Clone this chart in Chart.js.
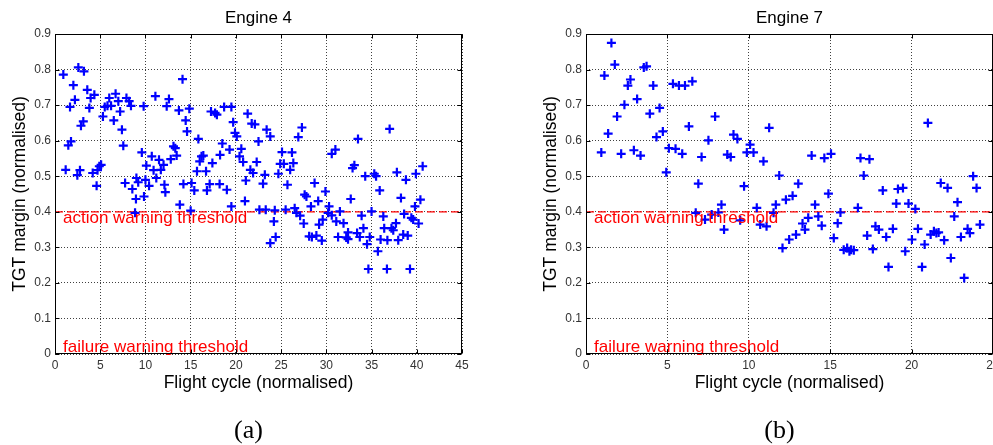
<!DOCTYPE html>
<html>
<head>
<meta charset="utf-8">
<title>TGT margin - Engine 4 / Engine 7</title>
<script src="https://cdn.jsdelivr.net/npm/chart.js@4.4.1/dist/chart.umd.min.js"></script>
<style>
    html, body { margin: 0; padding: 0; background: #fff; overflow: hidden; }
    body { position: relative; width: 993px; height: 445px; }
    canvas { position: absolute; top: 0; }
    #engine4Chart { left: 0; }
    #engine7Chart { left: 531px; }
</style>
</head>
<body>
<canvas id="engine4Chart" width="497" height="445"></canvas>
<canvas id="engine7Chart" width="497" height="445"></canvas>
<script>
const engine4Cycle = [
    0.92, 1.18, 1.47, 1.66, 1.77, 2.03, 2.2, 2.47, 2.58, 2.76, 2.87, 3.13, 3.2, 3.57, 3.8, 3.94, 4.17, 4.35, 4.6, 4.7,
    4.9, 5.1, 5.3, 5.5, 5.8, 6.0, 6.2, 6.5, 6.7, 7.0, 7.2, 7.4, 7.55, 7.75, 7.9, 8.2, 8.4, 8.55, 8.85, 8.95,
    9.0, 9.2, 9.6, 9.8, 9.84,
    10.0, 10.1, 10.4, 10.7, 10.9, 11.1, 11.2, 11.5, 11.7, 12.0, 12.1, 12.2, 12.35, 12.6, 12.8, 13.1, 13.3, 13.45, 13.7, 13.8,
    14.1, 14.2, 14.45, 14.6, 14.85, 15.1, 15.0, 15.4, 15.7, 15.85, 16.0, 16.2, 16.4, 16.7, 16.8, 17.1, 17.25, 17.4, 17.7, 17.9,
    18.2, 18.25, 18.5, 18.7, 19.0, 19.3, 19.5, 19.5, 19.7, 19.9, 20.1, 20.4, 20.6, 20.8, 21.1, 21.0, 21.3, 21.6, 21.9, 21.75,
    22.1, 22.3, 22.5, 22.6, 23.0, 23.2, 23.3, 23.4, 23.8, 23.8, 24.2, 24.3, 24.4, 24.7, 24.9, 25.1, 25.3, 25.5, 25.7, 26.0,
    26.2, 26.35, 26.5, 26.7, 26.9, 27.1, 27.3, 27.5, 27.6, 27.8, 28.1, 28.4, 28.3, 28.7, 28.9, 29.1, 29.2, 29.5, 29.6, 29.9,
    30.2, 30.3, 30.6, 30.6, 31.0, 31.1, 31.3, 31.5, 31.9, 32.2, 32.4, 32.4, 32.7, 32.9, 33.1, 33.4, 33.5, 33.7, 33.9, 34.1,
    34.3, 34.5, 34.65, 34.8, 35.0, 35.3, 35.5, 35.7, 35.9, 36.0, 36.3, 36.4, 36.7, 36.75, 37.0, 37.2, 37.4, 37.7, 37.8, 37.95,
    38.25, 38.5, 38.6, 38.8, 39.0, 39.25, 39.4, 39.6, 39.8, 39.9, 40.2, 40.4, 40.65
];
const engine4Margin = [
    0.786, 0.518, 0.587, 0.695, 0.598, 0.756, 0.715, 0.503, 0.806, 0.517, 0.642, 0.654, 0.795, 0.743, 0.692, 0.72, 0.509, 0.729, 0.473, 0.517,
    0.528, 0.532, 0.668, 0.695, 0.698, 0.72, 0.698, 0.657, 0.732, 0.711, 0.682, 0.631, 0.586, 0.481, 0.72, 0.711, 0.698, 0.464, 0.397, 0.436,
    0.495, 0.483, 0.567, 0.697, 0.443,
    0.49, 0.53, 0.473, 0.556, 0.517, 0.725, 0.495, 0.546, 0.518, 0.532, 0.476, 0.455, 0.697, 0.717, 0.548, 0.584, 0.579, 0.558, 0.685, 0.42,
    0.773, 0.478, 0.657, 0.626, 0.69, 0.481, 0.403, 0.46, 0.514, 0.605, 0.542, 0.556, 0.558, 0.514, 0.46, 0.478, 0.682, 0.537, 0.678, 0.673,
    0.478, 0.56, 0.592, 0.695, 0.462, 0.575, 0.695, 0.415, 0.652, 0.622, 0.612, 0.556, 0.577, 0.54, 0.488, 0.43, 0.676, 0.518, 0.509, 0.648,
    0.646, 0.54, 0.598, 0.406, 0.479, 0.504, 0.406, 0.631, 0.612, 0.312, 0.373, 0.404, 0.329, 0.507, 0.535, 0.568, 0.535, 0.406, 0.476, 0.518,
    0.567, 0.537, 0.41, 0.397, 0.61, 0.389, 0.637, 0.367, 0.448, 0.443, 0.331, 0.329, 0.415, 0.481, 0.333, 0.43, 0.364, 0.319, 0.378, 0.457,
    0.397, 0.415, 0.563, 0.39, 0.575, 0.373, 0.329, 0.401, 0.368, 0.328, 0.342, 0.323, 0.436, 0.523, 0.531, 0.34, 0.605, 0.329, 0.389, 0.354,
    0.5, 0.309, 0.239, 0.329, 0.401, 0.507, 0.5, 0.289, 0.46, 0.322, 0.387, 0.354, 0.239, 0.32, 0.633, 0.354, 0.348, 0.368, 0.511, 0.32,
    0.439, 0.336, 0.394, 0.49, 0.333, 0.239, 0.383, 0.378, 0.415, 0.507, 0.367, 0.434, 0.528
];

const engine7Cycle = [
    0.94, 1.13, 1.36, 1.56, 1.77, 1.91, 2.16, 2.36, 2.57, 2.73, 2.94, 3.14, 3.35, 3.55, 3.72, 3.92, 4.13, 4.33, 4.52, 4.72,
    4.93, 5.09, 5.34, 5.5, 5.71, 5.91, 6.08, 6.32, 6.53, 6.74, 6.9, 7.1, 7.31, 7.52, 7.72, 7.93, 8.13, 8.32, 8.48, 8.68,
    8.89, 9.06, 9.3, 9.47, 9.71, 9.88, 10.08, 10.29, 10.49, 10.7, 10.9, 11.09, 11.25, 11.52, 11.66, 11.87, 12.07, 12.28, 12.48, 12.69,
    12.9, 13.04, 13.3, 13.45, 13.65, 13.86, 14.07, 14.27, 14.48, 14.64, 14.89, 15.05, 15.22, 15.46, 15.63, 15.83, 16.04, 16.18, 16.28, 16.45,
    16.7, 16.86, 17.06, 17.27, 17.41, 17.62, 17.78, 17.99, 18.23, 18.44, 18.58, 18.85, 19.06, 19.16, 19.47, 19.61, 19.81, 20.02, 20.23, 20.39,
    20.64, 20.8, 21.0, 21.17, 21.37, 21.52, 21.66, 21.79, 22.0, 22.21, 22.41, 22.62, 22.82, 23.03, 23.23, 23.44, 23.58, 23.78, 23.99, 24.2
];
const engine7Margin = [
    0.567, 0.783, 0.62, 0.875, 0.814, 0.668, 0.563, 0.701, 0.755, 0.772, 0.573, 0.717, 0.558, 0.806, 0.809, 0.676, 0.755, 0.61, 0.692, 0.626,
    0.511, 0.579, 0.76, 0.577, 0.755, 0.563, 0.755, 0.64, 0.767, 0.397, 0.479, 0.554, 0.378, 0.601, 0.392, 0.668, 0.398, 0.42, 0.35, 0.561,
    0.554, 0.617, 0.605, 0.376, 0.472, 0.567, 0.589, 0.567, 0.411, 0.364, 0.542, 0.359, 0.636, 0.397, 0.42, 0.502, 0.298, 0.434, 0.322, 0.445,
    0.336, 0.479, 0.367, 0.35, 0.383, 0.558, 0.42, 0.387, 0.361, 0.551, 0.451, 0.563, 0.326, 0.368, 0.398, 0.293, 0.298, 0.289, 0.293, 0.292,
    0.411, 0.551, 0.502, 0.333, 0.548, 0.295, 0.359, 0.35, 0.46, 0.329, 0.245, 0.352, 0.423, 0.464, 0.467, 0.289, 0.423, 0.322, 0.408, 0.352,
    0.245, 0.308, 0.65, 0.336, 0.345, 0.34, 0.342, 0.481, 0.32, 0.467, 0.27, 0.387, 0.427, 0.329, 0.214, 0.352, 0.34, 0.5, 0.467, 0.364
];

const engine4CycleTicks = [0, 5, 10, 15, 20, 25, 30, 35, 40, 45];
const engine7CycleTicks = [0, 5, 10, 15, 20, 25];
const marginTicks = [0, 0.1, 0.2, 0.3, 0.4, 0.5, 0.6, 0.7, 0.8, 0.9];

const actionThreshold = 0.4;
const failureThreshold = 0;
const thresholdLabels = ['action warning threshold', 'failure warning threshold'];

const SANS = '"Liberation Sans", Arial, Helvetica, sans-serif';

// box round the axes, inward tick marks, threshold captions and the (a)/(b) label
const framePlugin = {
    id: 'frame',
    afterDatasetsDraw(chart, args, opts) {
        const { ctx, chartArea: area, scales: { x, y } } = chart;
        ctx.save();

        ctx.fillStyle = '#ff0000';
        ctx.font = '17px ' + SANS;
        ctx.textAlign = 'left';
        ctx.textBaseline = 'middle';
        ctx.fillText(thresholdLabels[0], area.left + 8, y.getPixelForValue(actionThreshold) + 7);
        ctx.fillText(thresholdLabels[1], area.left + 8, y.getPixelForValue(failureThreshold) - 7);

        const left = Math.round(area.left) + 0.5;
        const right = Math.round(area.right) - 0.5;
        const top = Math.round(area.top) + 0.5;
        const bottom = Math.round(area.bottom) - 0.5;
        ctx.strokeStyle = '#000';
        ctx.lineWidth = 1;
        ctx.strokeRect(left, top, right - left, bottom - top);

        ctx.beginPath();
        x.ticks.forEach(t => {
            const px = Math.round(x.getPixelForValue(t.value)) + 0.5;
            ctx.moveTo(px, bottom);
            ctx.lineTo(px, bottom - 4);
            ctx.moveTo(px, top);
            ctx.lineTo(px, top + 4);
        });
        y.ticks.forEach(t => {
            const py = Math.round(y.getPixelForValue(t.value)) + 0.5;
            ctx.moveTo(left, py);
            ctx.lineTo(left + 4, py);
            ctx.moveTo(right, py);
            ctx.lineTo(right - 4, py);
        });
        ctx.stroke();

        ctx.fillStyle = '#000';
        ctx.font = '26px "Liberation Serif", "Times New Roman", serif';
        ctx.textAlign = 'center';
        ctx.fillText(opts.caption, (area.left + area.right) / 2 - 10, 431);
        ctx.restore();
    }
};

function renderChart(canvasId, title, caption, cycles, margins, cycleTicks) {
    const xMax = cycleTicks[cycleTicks.length - 1];
    const points = cycles.map((c, i) => ({ x: c, y: margins[i] }));

    return new Chart(document.getElementById(canvasId), {
        type: 'scatter',
        data: {
            datasets: [
                {
                    data: points,
                    pointStyle: 'cross',
                    pointRadius: 4.5,
                    borderColor: '#0000ff',
                    backgroundColor: '#0000ff',
                    borderWidth: 2.2
                },
                {
                    data: [{ x: 0, y: actionThreshold }, { x: xMax, y: actionThreshold }],
                    showLine: true,
                    pointRadius: 0,
                    borderColor: '#ff0000',
                    borderWidth: 1.2,
                    borderDash: [8, 4]
                }
            ]
        },
        options: {
            responsive: false,
            animation: false,
            events: [],
            layout: { padding: { left: 0, top: 0, right: 35, bottom: 0 } },
            plugins: {
                legend: { display: false },
                tooltip: { enabled: false },
                title: {
                    display: true,
                    text: title,
                    fullSize: false,
                    color: '#000',
                    font: { family: SANS, size: 17, weight: 'normal', lineHeight: 1.2 },
                    padding: { top: 8.6, bottom: 5 }
                },
                frame: { caption: caption }
            },
            scales: {
                x: {
                    type: 'linear',
                    min: 0,
                    max: xMax,
                    afterBuildTicks: scale => { scale.ticks = cycleTicks.map(v => ({ value: v })); },
                    afterFit: scale => { scale.height = 91; },
                    ticks: { color: '#333', font: { family: SANS, size: 12 }, padding: 4, maxRotation: 0, autoSkip: false },
                    grid: { color: 'rgba(0,0,0,0.75)', lineWidth: 1, drawTicks: false },
                    border: { display: false, dash: [1, 2] },
                    title: {
                        display: true,
                        text: 'Flight cycle (normalised)',
                        color: '#000',
                        font: { family: SANS, size: 17.5, lineHeight: 1.2 },
                        padding: { top: 0, bottom: 51.5 }
                    }
                },
                y: {
                    type: 'linear',
                    min: 0,
                    max: 0.9,
                    afterBuildTicks: scale => { scale.ticks = marginTicks.map(v => ({ value: v })); },
                    afterFit: scale => { scale.width = 55; },
                    ticks: { color: '#333', font: { family: SANS, size: 12 }, padding: 4, autoSkip: false },
                    grid: { color: 'rgba(0,0,0,0.75)', lineWidth: 1, drawTicks: false },
                    border: { display: false, dash: [1, 2] },
                    title: {
                        display: true,
                        text: 'TGT margin (normalised)',
                        color: '#000',
                        font: { family: SANS, size: 17.5, lineHeight: 1.2 },
                        padding: { top: 9.5, bottom: 0 }
                    }
                }
            }
        },
        plugins: [framePlugin]
    });
}

document.addEventListener('DOMContentLoaded', function() {
    renderChart('engine4Chart', 'Engine 4', '(a)', engine4Cycle, engine4Margin, engine4CycleTicks);
    renderChart('engine7Chart', 'Engine 7', '(b)', engine7Cycle, engine7Margin, engine7CycleTicks);
});
</script>
</body>
</html>
